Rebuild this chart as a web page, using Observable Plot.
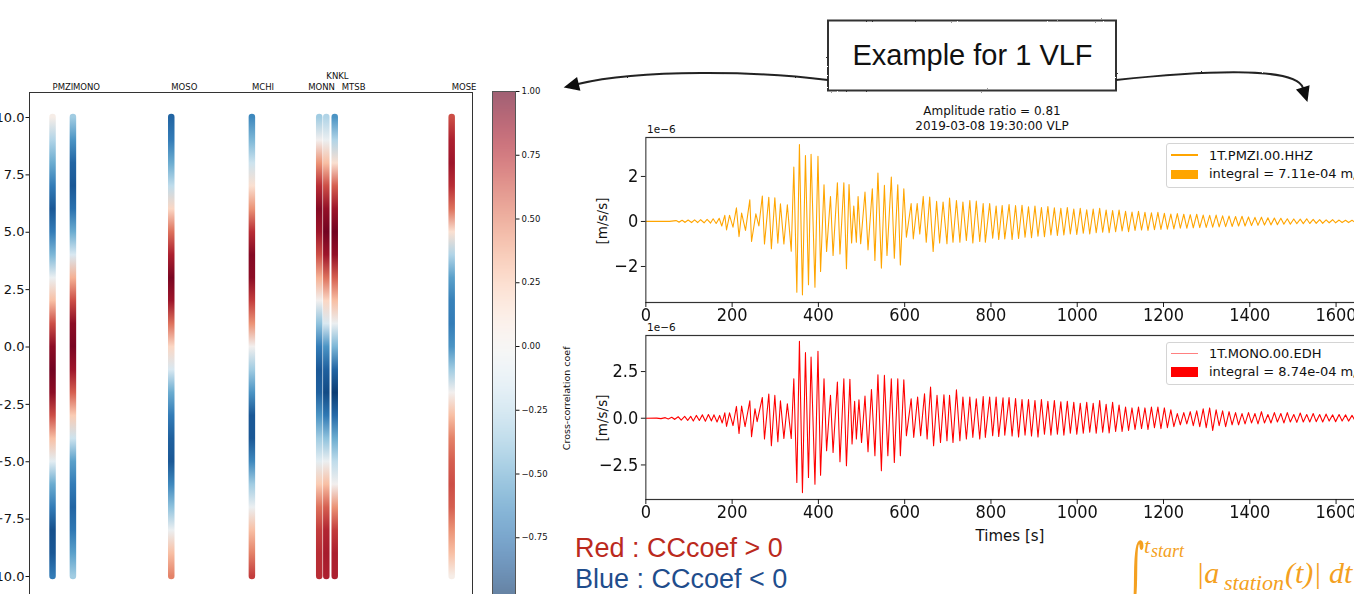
<!DOCTYPE html>
<html><head><meta charset="utf-8">
<script src="https://cdn.jsdelivr.net/npm/d3@7"></script>
<script src="https://cdn.jsdelivr.net/npm/@observablehq/plot@0.6"></script>
<style>
html,body{margin:0;padding:0;background:#fff;}
body{width:1354px;height:594px;overflow:hidden;position:relative;font-family:"DejaVu Sans",sans-serif;color:#111;}
.abs{position:absolute;}
.abs svg{max-width:none !important;}
.sq{transform:scaleX(0.9);transform-origin:0 0;}
.legend{position:absolute;border:1px solid #d4d4d4;border-radius:3px;background:#fff;width:260px;}
.legend span{position:absolute;left:42px;font-size:13px;white-space:nowrap;line-height:15px;}
.legend i{position:absolute;left:4px;width:27px;display:block;}
</style></head><body>
<div id="left" class="abs" style="left:-40px;top:62px;width:513px;height:539px"></div>
<div id="cbar" class="abs" style="left:491px;top:83px;width:94px;height:520px"></div>
<div id="w1" class="abs sq" style="left:585.6px;top:130.5px;width:877px;height:203px"></div>
<div id="w2" class="abs sq" style="left:585.6px;top:330px;width:877px;height:201px"></div>

<div class="legend" style="left:1166px;top:143px;height:43px;">
  <i style="top:10px;height:1.5px;background:orange"></i><span style="top:3.5px">1T.PMZI.00.HHZ</span>
  <i style="top:26px;height:9px;background:orange"></i><span style="top:22px">integral = 7.11e-04 m/s</span>
</div>
<div class="legend" style="left:1166px;top:342px;height:41px;">
  <i style="top:9.5px;height:1.5px;background:#ff8080"></i><span style="top:2.5px">1T.MONO.00.EDH</span>
  <i style="top:24px;height:10px;background:red"></i><span style="top:21px">integral = 8.74e-04 m/s</span>
</div>

<svg id="overlay" class="abs" style="left:0;top:0;pointer-events:none" width="1354" height="594">
  <defs>
    <filter id="rough" x="-5%" y="-5%" width="110%" height="110%">
      <feTurbulence type="fractalNoise" baseFrequency="0.8" numOctaves="1" result="n"/>
      <feDisplacementMap in="SourceGraphic" in2="n" scale="2"/>
    </filter>
  </defs>
  <g filter="url(#rough)">
    <rect x="828" y="20.5" width="288" height="70" fill="#fff" stroke="#333" stroke-width="2"/>
    <path d="M828,80 C760,71 640,69 578,84" fill="none" stroke="#222" stroke-width="2"/>
    <polygon points="565.4,87.1 579.4,89.8 576.6,78.2" fill="#111" stroke="#111" stroke-width="1.5"/>
    <path d="M1116,80 C1200,71 1296,66 1303,88" fill="none" stroke="#222" stroke-width="2"/>
    <polygon points="1306.9,100.4 1308.7,86.2 1297.3,89.8" fill="#111" stroke="#111" stroke-width="1.5"/>
  </g>
  <text x="972.5" y="65" text-anchor="middle" font-family="Liberation Sans" font-size="29" fill="#111">Example for 1 VLF</text>
  <text x="992" y="115" text-anchor="middle" font-family="DejaVu Sans" font-size="12" fill="#111">Amplitude ratio = 0.81</text>
  <text x="992" y="129.5" text-anchor="middle" font-family="DejaVu Sans" font-size="12" fill="#111">2019-03-08 19:30:00 VLP</text>
  <text x="647" y="133" font-family="DejaVu Sans" font-size="10.5" fill="#111">1e−6</text>
  <text x="647" y="331" font-family="DejaVu Sans" font-size="10.5" fill="#111">1e−6</text>
  <text transform="translate(606.5,221) rotate(-90)" text-anchor="middle" font-family="DejaVu Sans" font-size="13.5" fill="#111">[m/s/s]</text>
  <text transform="translate(606.5,418) rotate(-90)" text-anchor="middle" font-family="DejaVu Sans" font-size="13.5" fill="#111">[m/s/s]</text>
  <text x="1010" y="540.5" text-anchor="middle" font-family="DejaVu Sans" font-size="15" fill="#111">Times [s]</text>
  <text x="575" y="557" font-family="Liberation Sans" font-size="27" fill="#bb2a1d">Red : CCcoef &gt; 0</text>
  <text x="575" y="588" font-family="Liberation Sans" font-size="27" fill="#1f4d8c">Blue : CCcoef &lt; 0</text>
  <g font-family="Liberation Serif" font-style="italic" fill="#f4a020">
    <text transform="translate(1127,597) scale(0.55,1.25)" font-size="60" font-style="normal" font-family="DejaVu Serif">∫</text>
    <text x="1144" y="553" font-size="22">t</text>
    <text x="1151" y="557" font-size="18">start</text>
    <text x="1196" y="583" font-size="30">|a</text>
    <text x="1224" y="590" font-size="22">station</text>
    <text x="1285" y="583" font-size="30">(t)| dt</text>
  </g>
</svg>

<script>
// ---------- Data ----------
const stations = ["PMZI", "MONO", "MOSO", "MCHI", "MONN", "KNKL", "MTSB", "MOSE"];
const stationPos = [5.2, 9.8, 32.0, 50.2, 65.4, 67.0, 68.9, 95.3];
const lags = [10, 9, 8, 7, 6, 5, 4, 3, 2, 1, 0, -1, -2, -3, -4, -5, -6, -7, -8, -9, -10];
const lagTicks = [10, 7.5, 5, 2.5, 0, -2.5, -5, -7.5, -10];
const ccPMZI = [0.05, -0.3, -0.5, -0.7, -0.85, -0.7, -0.45, -0.05, 0.3, 0.65, 0.9, 0.97, 0.9, 0.65, 0.3, -0.1, -0.5, -0.7, -0.88, -0.85, -0.7];
const ccMONO = [-0.35, -0.6, -0.8, -0.85, -0.75, -0.5, -0.15, 0.35, 0.65, 0.9, 0.95, 0.85, 0.6, 0.25, -0.2, -0.55, -0.7, -0.8, -0.72, -0.55, -0.35];
const ccMOSO = [-0.8, -0.7, -0.5, -0.25, 0.2, 0.55, 0.8, 0.95, 0.85, 0.55, 0.2, -0.15, -0.5, -0.7, -0.82, -0.85, -0.65, -0.4, -0.05, 0.3, 0.5];
const ccMCHI = [-0.65, -0.45, -0.2, 0.15, 0.45, 0.75, 0.92, 0.9, 0.7, 0.45, 0.0, -0.35, -0.6, -0.85, -0.85, -0.65, -0.35, -0.05, 0.3, 0.5, 0.7];
const ccMONN = [-0.35, 0.0, 0.45, 0.75, 0.92, 0.85, 0.65, 0.35, 0.0, -0.4, -0.7, -0.85, -0.82, -0.6, -0.35, -0.1, 0.25, 0.55, 0.7, 0.75, 0.75];
const ccKNKL = [-0.3, -0.05, 0.3, 0.65, 0.88, 0.97, 0.85, 0.55, 0.2, -0.15, -0.6, -0.82, -0.9, -0.72, -0.4, -0.05, 0.3, 0.6, 0.78, 0.82, 0.8];
const ccMTSB = [-0.6, -0.3, 0.15, 0.6, 0.85, 0.97, 0.88, 0.6, 0.3, -0.05, -0.45, -0.8, -0.95, -0.78, -0.5, -0.25, 0.0, 0.45, 0.7, 0.8, 0.8];
const ccMOSE = [0.65, 0.8, 0.85, 0.75, 0.55, 0.15, -0.3, -0.55, -0.68, -0.7, -0.6, -0.35, 0.0, 0.3, 0.5, 0.6, 0.65, 0.6, 0.45, 0.3, 0.05];
const cbarTicks = [1, 0.75, 0.5, 0.25, 0, -0.25, -0.5, -0.75, -1];

const timeTicks = [0, 200, 400, 600, 800, 1000, 1200, 1400, 1600];
const pmziTicks = [-2, 0, 2];
const monoTicks = [-2.5, 0, 2.5];
// [time s, acceleration 1e-6 m/s/s] at successive extrema
const pmziTrace = [[0,0],[55,0],[70,0.04],[77,-0.03],[84,0.05],[91,-0.04],[98,0.06],[106,-0.05],[113,0.07],[120,-0.05],[127,0.08],[135,-0.06],[142,0.09],[150,-0.07],[156,0.12],[163,-0.09],[170,0.14],[176,-0.2],
[183,0.27],[187,-0.37],[194,0.27],[202,-0.25],[210,0.6],[216,-0.67],[222,0.37],[231,-0.4],[241,0.96],[245,-0.89],[255,0.34],[262,-0.2],[270,1.13],[275,-1.0],[285,1.07],[291,-1.21],[299,1.05],[306,-0.96],[312,0.78],[320,-1.0],[328,0.74],[337,-1.32],[343,2.41],[350,-3.14],[356,3.42],[363,-3.26],[370,2.93],[377,-2.81],[383,2.98],[392,-2.92],[399,2.89],[405,-2.22],[413,1.63],[419,-1.33],[428,1.11],[434,-1.51],[444,1.72],[450,-1.44],[459,1.72],[465,-2.1],[471,1.64],[477,-0.95],[482,0.68],[488,-0.92],[492,1.11],[498,-0.99],[508,1.3],[515,-1.26],[525,1.45],[531,-1.73],[538,2.15],[546,-2.07],[553,1.6],[559,-1.51],[569,1.97],[576,-1.63],[584,1.63],[590,-1.93],[598,1.45],[604,-0.7],[615,0.79],[620,-0.77],[629,0.79],[635,-0.55],[643,1.11],[650,-0.92],[658,1.08],[666,-1.33],[674,0.89],[681,-0.95],[689,0.86],[698,-0.99],[704,1.04],[712,-0.92],[720,0.93],[728,-0.92],[735,0.86],[743,-0.84],[751,0.93],[758,-0.95],[766,0.9],[774,-0.89],[782,0.79],[787,-0.92],[797,0.79],[804,-0.74],[812,0.68],[818,-0.8],[826,0.71],[832,-0.77],
[842,0.75],[849,-0.8],[857,0.7],[864,-0.75],[872,0.72],[879,-0.7],[887,0.65],[894,-0.72],[902,0.68],[909,-0.65],[917,0.62],[924,-0.68],[932,0.66],[939,-0.6],[947,0.6],[954,-0.62],[962,0.58],[969,-0.6],[977,0.62],[984,-0.55],[992,0.55],[999,-0.58],[1007,0.58],[1014,-0.52],[1022,0.52],[1029,-0.55],[1037,0.55],[1044,-0.5],[1052,0.58],[1059,-0.48],[1067,0.5],[1074,-0.5],[1082,0.48],[1089,-0.45],[1097,0.5],[1104,-0.42],[1112,0.45],[1119,-0.45],[1127,0.42],[1134,-0.4],[1142,0.45],[1149,-0.38],[1157,0.4],[1164,-0.4],[1172,0.38],[1179,-0.36],[1187,0.4],[1194,-0.35],[1202,0.36],[1209,-0.34],[1217,0.33],[1224,-0.33],[1232,0.35],[1239,-0.3],[1247,0.32],[1254,-0.3],[1262,0.3],[1269,-0.28],[1277,0.32],[1284,-0.27],[1292,0.28],[1299,-0.26],[1307,0.27],[1314,-0.25],[1322,0.28],[1329,-0.24],[1337,0.25],[1344,-0.23],[1352,0.24],[1359,-0.22],[1367,0.22],[1374,-0.2],[1382,0.23],[1389,-0.2],[1397,0.2],[1404,-0.18],[1412,0.18],[1419,-0.17],[1427,0.19],[1434,-0.16],[1442,0.16],[1449,-0.15],[1457,0.15],[1464,-0.14],[1472,0.14],[1479,-0.12],[1487,0.12],[1494,-0.12],[1502,0.11],[1509,-0.1],[1517,0.1],[1524,-0.1],[1532,0.12],[1539,-0.09],[1547,0.09],[1554,-0.08],[1562,0.08],[1569,-0.08],[1577,0.07],[1584,-0.06],[1592,0.08],[1599,-0.06],[1607,0.06],[1614,-0.05],[1622,0.05],[1629,-0.05],[1637,0.05],[1644,-0.04],[1652,0.04],[1659,-0.04],[1666,0.03],[1673,-0.03],[1680,0.02],[1690,0]];
const monoTrace = [[0,0],[25,0.01],[35,-0.02],[45,0.03],[52,-0.04],[60,0.05],[67,-0.06],[75,0.08],[82,-0.1],[90,0.1],[97,-0.12],[104,0.1],[110,-0.15],[117,0.15],[124,-0.12],[131,0.18],[138,-0.16],[145,0.2],[152,-0.14],[158,0.18],[165,-0.2],[171,0.15],[177,-0.25],
[183,0.29],[187,-0.43],[194,0.29],[202,-0.39],[210,0.63],[216,-0.81],[222,0.65],[230,-0.45],[241,0.93],[245,-0.99],[253,0.5],[258,-0.18],[270,1.11],[275,-1.11],[285,1.29],[291,-1.47],[299,1.22],[306,-1.25],[312,0.93],[320,-1.08],[328,0.77],[337,-1.08],[343,2.11],[350,-3.44],[356,4.12],[363,-3.98],[370,3.51],[377,-3.17],[383,3.28],[392,-3.53],[399,3.58],[405,-3.05],[413,2.11],[419,-1.74],[428,1.22],[434,-1.83],[444,1.94],[450,-2.33],[459,2.11],[465,-2.54],[473,2.08],[478,-1.38],[484,0.9],[488,-1.11],[494,0.99],[500,-1.29],[508,1.18],[515,-1.79],[523,1.54],[531,-2.0],[538,2.33],[546,-2.81],[553,2.29],[561,-2.0],[569,2.11],[576,-2.37],[584,2.11],[590,-2.0],[598,2.06],[604,-0.93],[615,1.04],[621,-1.02],[630,1.13],[637,-0.93],[646,1.31],[652,-1.11],[660,1.67],[667,-1.47],[675,1.22],[683,-1.29],[691,1.25],[698,-1.2],[704,1.22],[712,-1.29],[720,1.52],[728,-1.2],[735,1.13],[743,-1.11],[751,1.13],[758,-1.02],[766,1.04],[774,-1.11],[782,1.16],[787,-1.02],[797,1.13],[804,-0.93],[812,1.13],[818,-0.97],[828,1.09],[832,-0.9],
[842,1.1],[849,-0.95],[857,1.05],[864,-1.0],[872,1.0],[879,-0.9],[887,1.0],[894,-0.95],[902,0.95],[909,-1.0],[917,1.0],[924,-0.85],[932,0.9],[939,-0.9],[947,0.95],[954,-0.85],[962,0.88],[969,-0.9],[977,0.9],[984,-0.8],[992,0.85],[999,-0.85],[1007,0.8],[1014,-0.8],[1022,0.85],[1029,-0.75],[1037,0.8],[1044,-0.8],[1052,0.95],[1059,-0.75],[1067,0.75],[1074,-0.78],[1082,0.85],[1089,-0.7],[1097,0.7],[1104,-0.7],[1112,0.6],[1119,-0.65],[1127,0.55],[1134,-0.6],[1142,0.6],[1149,-0.55],[1157,0.55],[1164,-0.6],[1172,0.6],[1179,-0.5],[1187,0.6],[1194,-0.55],[1202,0.55],[1209,-0.5],[1217,0.45],[1224,-0.45],[1232,0.25],[1239,-0.35],[1247,0.3],[1254,-0.3],[1262,0.35],[1269,-0.4],[1277,0.4],[1284,-0.45],[1292,0.5],[1299,-0.5],[1307,0.55],[1314,-0.65],[1322,0.45],[1329,-0.4],[1337,0.4],[1344,-0.45],[1352,0.35],[1359,-0.35],[1367,0.3],[1374,-0.35],[1382,0.25],[1389,-0.3],[1397,0.3],[1404,-0.25],[1412,0.25],[1419,-0.3],[1427,0.35],[1434,-0.25],[1442,0.2],[1449,-0.25],[1457,0.3],[1464,-0.2],[1472,0.25],[1479,-0.25],[1487,0.3],[1494,-0.2],[1502,0.2],[1509,-0.22],[1517,0.28],[1524,-0.2],[1532,0.2],[1539,-0.2],[1547,0.25],[1554,-0.18],[1562,0.2],[1569,-0.2],[1577,0.22],[1584,-0.15],[1592,0.18],[1599,-0.18],[1607,0.2],[1614,-0.15],[1622,0.18],[1629,-0.15],[1637,0.15],[1644,-0.13],[1652,0.15],[1659,-0.12],[1666,0.1],[1673,-0.1],[1680,0.08],[1690,0]];

// ---------- Left panel: CC coefficient vs lag per station ----------
const ccSeries = [ccPMZI, ccMONO, ccMOSO, ccMCHI, ccMONN, ccKNKL, ccMTSB, ccMOSE];
const ccColorSpec = {type: "linear", scheme: "RdBu", reverse: true, domain: [-1, 1]};
const ccColor = Plot.scale({color: ccColorSpec});
const stationRows = stations.map((s, i) => ({station: s, pos: stationPos[i], top: lags[0], bottom: lags[lags.length - 1]}));
const labelShift = {MONN: [-11, 0], MTSB: [7, 0], KNKL: [0, -10.5]};
const baseStyle = {fontFamily: "DejaVu Sans", color: "#111", background: "transparent", overflow: "visible", maxWidth: "none"};

const leftPlot = Plot.plot({
  width: 513, height: 539,
  marginLeft: 69, marginRight: 1, marginTop: 30, marginBottom: 0,
  style: {...baseStyle, fontSize: "13px"},
  x: {domain: [0, 100], axis: null},
  y: {domain: [-11.09, 11.09]},
  marks: [
    Plot.frame({stroke: "#333"}),
    Plot.axisY({ticks: lagTicks, tickFormat: d3.format(".1f"), tickSize: 3.5, tickPadding: 1.5, fontSize: 13, label: null}),
    ...stationRows.map((d, i) => Plot.ruleX([d], {x: "pos", y1: "top", y2: "bottom", stroke: `url(#ccg${i})`, strokeWidth: 6.5, strokeLinecap: "round"})),
    ...stationRows.map(d => {
      const [dx, dy] = labelShift[d.station] || [0, 0];
      return Plot.text([d], {x: "pos", frameAnchor: "top", text: "station", textAnchor: "start", lineAnchor: "bottom", dx: dx, dy: -3 + dy, fontSize: 8.5});
    })
  ]
});
{
  const ns = "http://www.w3.org/2000/svg";
  const ys = leftPlot.scale("y");
  const defs = document.createElementNS(ns, "defs");
  stationRows.forEach((d, i) => {
    const g = document.createElementNS(ns, "linearGradient");
    const y1 = ys.apply(lags[0]), y2 = ys.apply(lags[lags.length - 1]);
    g.setAttribute("id", `ccg${i}`);
    g.setAttribute("gradientUnits", "userSpaceOnUse");
    g.setAttribute("x1", 0); g.setAttribute("x2", 0);
    g.setAttribute("y1", y1); g.setAttribute("y2", y2);
    lags.forEach((l, j) => {
      const s = document.createElementNS(ns, "stop");
      s.setAttribute("offset", (ys.apply(l) - y1) / (y2 - y1));
      s.setAttribute("stop-color", ccColor.apply(ccSeries[i][j]));
      g.appendChild(s);
    });
    defs.appendChild(g);
  });
  leftPlot.insertBefore(defs, leftPlot.firstChild);
}
document.getElementById("left").appendChild(leftPlot);

// ---------- Colorbar ----------
const cbar = Plot.plot({
  width: 94, height: 520,
  marginLeft: 1, marginRight: 70, marginTop: 8, marginBottom: 2,
  style: {...baseStyle, fontSize: "8.5px"},
  x: {domain: [0, 1], axis: null},
  y: {domain: [-1, 1]},
  color: ccColorSpec,
  marks: [
    Plot.raster({x1: 0, x2: 1, y1: -1, y2: 1, fill: (x, y) => y, opacity: 0.62}),
    Plot.frame({stroke: "#555"}),
    Plot.axisY({anchor: "right", ticks: cbarTicks, tickFormat: d3.format(".2f"), tickSize: 3.5, tickPadding: 2.5, fontSize: 8.5, label: null}),
    Plot.text(["Cross-correlation coef"], {frameAnchor: "right", dx: 51, rotate: -90, fontSize: 9.5})
  ]
});
document.getElementById("cbar").appendChild(cbar);

// ---------- Waveforms ----------
function wavePlot(trace, color, yDomain, yTicks, yFmt, frameH, mt) {
  return Plot.plot({
    width: 66 + 811, height: mt + frameH + 32,
    marginLeft: 66, marginRight: 0, marginTop: mt, marginBottom: 32,
    style: {...baseStyle, fontSize: "18px"},
    x: {domain: [0, 1692]},
    y: {domain: yDomain},
    marks: [
      Plot.line(trace, {x: d => d[0], y: d => d[1], stroke: color, strokeWidth: 1.2, clip: true}),
      Plot.frame({stroke: "#333", strokeWidth: 1.2}),
      Plot.axisX({ticks: timeTicks, tickFormat: d3.format("d"), tickSize: 5, tickPadding: 0.5, fontSize: 18, label: null}),
      Plot.axisY({ticks: yTicks, tickFormat: yFmt, tickSize: 5, tickPadding: 3.5, fontSize: 18, label: null})
    ]
  });
}
document.getElementById("w1").appendChild(wavePlot(pmziTrace, "orange", [-3.6, 3.73], pmziTicks, d3.format("d"), 165, 6));
document.getElementById("w2").appendChild(wavePlot(monoTrace, "red", [-4.35, 4.43], monoTicks, d3.format(".1f"), 164, 5));
</script>
</body></html>
